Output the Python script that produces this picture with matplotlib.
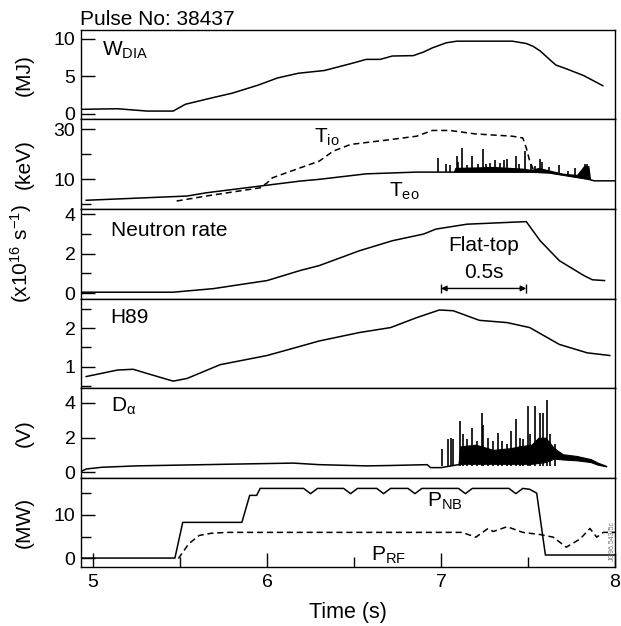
import numpy as np
import matplotlib
matplotlib.use("Agg")
import matplotlib.pyplot as plt

# ------------------------------
# DATA
# ------------------------------

# stored energy W_DIA (MJ)
w_t = [4.93, 5.14, 5.31, 5.46, 5.53, 5.69, 5.80, 5.95, 6.06, 6.18, 6.33, 6.48, 6.57,
       6.65, 6.72, 6.84, 6.90, 6.95, 7.03, 7.09, 7.41, 7.49, 7.53, 7.57, 7.63, 7.66,
       7.72, 7.82, 7.93]
w_dia = [0.56, 0.64, 0.33, 0.33, 1.24, 2.14, 2.73, 3.82, 4.77, 5.4, 5.77, 6.68, 7.26,
         7.26, 7.71, 7.76, 8.25, 8.8, 9.48, 9.7, 9.7, 9.39, 9.0, 8.39, 7.12, 6.5,
         6.0, 5.09, 3.73]

# central electron / ion temperature (keV)
te_t = [4.96, 5.54, 5.65, 5.96, 6.19, 6.30, 6.57, 6.86, 7.51, 7.62, 7.85, 7.88, 8.0]
te = [1.6, 3.3, 4.6, 7.3, 9.3, 10.0, 12.2, 12.9, 12.9, 12.6, 10.0, 9.4, 9.4]
te_spike_t = [6.98, 7.03, 7.05, 7.09, 7.10, 7.12, 7.15, 7.18, 7.21, 7.24, 7.26, 7.28,
              7.31, 7.34, 7.36, 7.38, 7.43, 7.45, 7.48, 7.52, 7.54, 7.57, 7.58, 7.62,
              7.68, 7.73, 7.77, 7.83, 7.84]
te_spike = [18.6, 16.0, 15.8, 19.3, 17.0, 22.6, 15.8, 19.3, 16.0, 22.0, 16.0, 16.5,
            17.7, 16.5, 17.7, 18.0, 19.3, 16.0, 21.5, 16.0, 15.5, 18.0, 17.0, 15.0,
            15.8, 13.5, 14.5, 16.2, 16.0]
te_env_t = [7.07, 7.08, 7.20, 7.30, 7.40, 7.47, 7.52, 7.56, 7.62, 7.70, 7.78, 7.82, 7.85, 7.86]
te_env = [12.9, 14.8, 15.0, 15.2, 14.8, 14.5, 14.0, 14.8, 13.8, 12.5, 12.0, 15.5, 15.5, 10.0]
ti_t = [5.48, 5.65, 5.96, 6.00, 6.03, 6.19, 6.30, 6.38, 6.48, 6.67, 6.86, 6.95, 7.05,
        7.20, 7.41, 7.47, 7.49, 7.51, 7.53]
ti = [1.3, 3.3, 6.6, 8.6, 10.6, 14.6, 17.3, 21.3, 24.0, 25.6, 27.3, 29.6, 29.6,
      28.2, 27.3, 26.6, 22.6, 17.3, 14.0]

# neutron rate (1e16 /s)
n_t = [4.94, 5.46, 5.69, 6.0, 6.19, 6.30, 6.53, 6.72, 6.90, 6.97, 7.15, 7.49, 7.57,
       7.68, 7.82, 7.87, 7.94]
neutrons = [0.05, 0.05, 0.23, 0.64, 1.15, 1.4, 2.15, 2.66, 3.0, 3.25, 3.5, 3.63, 2.66,
            1.65, 0.9, 0.68, 0.64]

# H89 confinement factor
h_t = [4.96, 5.14, 5.23, 5.31, 5.46, 5.54, 5.73, 6.0, 6.19, 6.30, 6.53, 6.71, 6.86,
       6.99, 7.07, 7.22, 7.38, 7.51, 7.68, 7.84, 7.97]
h89 = [0.74, 0.91, 0.93, 0.82, 0.62, 0.69, 1.05, 1.29, 1.53, 1.67, 1.89, 2.02, 2.28,
       2.48, 2.46, 2.21, 2.15, 2.02, 1.58, 1.36, 1.29]

# D-alpha (V)
d_t = [4.93, 4.96, 5.05, 5.25, 5.80, 6.15, 6.30, 6.57, 6.70, 6.92, 6.94, 7.0, 7.10]
d_alpha = [0.06, 0.2, 0.3, 0.38, 0.48, 0.54, 0.45, 0.38, 0.4, 0.45, 0.28, 0.28, 0.45]
d_spike_t = [7.007, 7.041, 7.055, 7.07, 7.109, 7.128, 7.147, 7.176, 7.205, 7.233, 7.243,
             7.272, 7.301, 7.33, 7.349, 7.378, 7.402, 7.431, 7.454, 7.473, 7.498, 7.511,
             7.54, 7.569, 7.588, 7.607, 7.626, 7.655]
d_spike = [1.34, 1.91, 2.0, 1.91, 2.96, 2.19, 1.91, 2.57, 1.81, 3.43, 2.76, 2.0, 1.81,
           2.29, 1.81, 1.62, 2.38, 3.05, 2.0, 1.91, 3.81, 2.19, 3.81, 3.43, 3.43, 4.19,
           2.19, 1.62]
d_env_t = [7.10, 7.11, 7.20, 7.30, 7.40, 7.45, 7.52, 7.56, 7.60, 7.65, 7.70, 7.78, 7.86,
           7.90, 7.95]
d_env_lo = [0.45, 0.5, 0.5, 0.5, 0.5, 0.5, 0.5, 0.55, 0.6, 0.8, 0.75, 0.7, 0.6, 0.45, 0.35]
d_env_hi = [0.45, 1.5, 1.6, 1.3, 1.4, 1.5, 1.6, 2.0, 2.0, 1.4, 1.05, 0.95, 0.77, 0.57, 0.38]

# heating power (MW)
pnb_t = [4.93, 5.47, 5.515, 5.855, 5.90, 5.94, 5.96, 6.21, 6.25, 6.29, 6.44, 6.48, 6.52,
         6.63, 6.67, 6.71, 6.81, 6.85, 6.89, 7.10, 7.14, 7.18, 7.39, 7.43, 7.47, 7.51,
         7.55, 7.60, 8.0]
p_nb = [0.1, 0.1, 8.3, 8.3, 14.5, 14.5, 16.1, 16.1, 14.9, 16.1, 16.1, 14.9, 16.1,
        16.1, 14.9, 16.1, 16.1, 14.9, 16.1, 16.1, 14.9, 16.1, 16.1, 14.9, 16.1, 15.9,
        15.0, 0.8, 0.8]
prf_t = [5.49, 5.55, 5.61, 5.68, 5.77, 7.12, 7.20, 7.27, 7.30, 7.38, 7.47, 7.57, 7.645,
         7.72, 7.80, 7.856, 7.895, 7.933, 8.0]
p_rf = [0.0, 3.4, 5.3, 5.8, 6.0, 6.0, 4.9, 6.9, 6.2, 7.3, 6.0, 5.5, 4.9, 2.6, 4.5,
        6.9, 4.9, 6.0, 6.0]

flat_top = (7.0, 7.49)

# ------------------------------
# STYLE
# ------------------------------

plt.rcParams["font.family"] = ["Liberation Sans", "DejaVu Sans"]
plt.rcParams["mathtext.fontset"] = "custom"
plt.rcParams["mathtext.rm"] = "Liberation Sans"
plt.rcParams["mathtext.it"] = "Liberation Sans:italic"
plt.rcParams["mathtext.default"] = "regular"

LW = 1.1
TXT = 15
YLAB = 15
DASH = (0, (4, 2.5))

fig = plt.figure(figsize=(6.21, 6.26), dpi=100)
gs = fig.add_gridspec(6, 1, left=0.1304, right=0.9903, top=0.9521, bottom=0.0942, hspace=0)
axes = [fig.add_subplot(gs[i]) for i in range(6)]
ax_w, ax_t, ax_n, ax_h, ax_d, ax_p = axes

for ax in axes:
    ax.set_xlim(4.93, 8.0)
    for sp in ax.spines.values():
        sp.set_linewidth(1.0)
    ax.tick_params(axis="y", which="major", direction="in", length=10, width=1,
                   labelsize=14, pad=4)
    ax.tick_params(axis="y", which="minor", direction="in", length=7, width=1)
    ax.tick_params(axis="x", which="both", bottom=False, labelbottom=False)
    ax.yaxis.set_label_coords(-0.088, 0.5)

# W_DIA
ax_w.plot(w_t, w_dia, color="k", lw=LW)
ax_w.set_ylim(-0.8, 11.2)
ax_w.set_yticks([0, 5, 10])
ax_w.set_ylabel("(MJ)", fontsize=YLAB)
ax_w.text(5.05, 8.5, r"W$_{DIA}$", fontsize=TXT, va="center")

# temperatures
ax_t.plot(te_t, te, color="k", lw=LW)
te_env_base = np.interp(te_env_t, te_t, te)
ax_t.fill_between(te_env_t, te_env_base, te_env, color="k", lw=0)
ax_t.vlines(te_spike_t, np.interp(te_spike_t, te_t, te), te_spike, color="k", lw=1.2)
ax_t.plot(ti_t, ti, color="k", lw=LW, linestyle=DASH)
ax_t.set_ylim(-1.9, 34)
ax_t.set_yticks([10, 30])
ax_t.set_yticks([0, 20], minor=True)
ax_t.set_ylabel("(keV)", fontsize=YLAB)
ax_t.text(6.27, 27.0, r"T$_{io}$", fontsize=TXT, va="center")
ax_t.text(6.70, 5.3, r"T$_{eo}$", fontsize=TXT, va="center")

# neutrons
ax_n.plot(n_t, neutrons, color="k", lw=LW)
ax_n.set_ylim(-0.27, 4.27)
ax_n.set_yticks([0, 2, 4])
ax_n.set_yticks([1, 3], minor=True)
ax_n.set_ylabel(r"(x10$^{16}$ s$^{-1}$)", fontsize=YLAB)
ax_n.text(5.10, 3.2, "Neutron rate", fontsize=TXT, va="center")
mid = 0.5 * (flat_top[0] + flat_top[1])
ax_n.text(mid, 2.41, "Flat-top", fontsize=TXT, ha="center", va="center")
ax_n.text(mid, 1.05, "0.5s", fontsize=TXT, ha="center", va="center")
ax_n.annotate("", xy=(flat_top[0], 0.24), xytext=(flat_top[1], 0.24),
              arrowprops=dict(arrowstyle="<|-|>", color="k", lw=1, mutation_scale=8,
                              shrinkA=0, shrinkB=0))
ax_n.vlines(flat_top, 0.0, 0.48, color="k", lw=1)

# H89
ax_h.plot(h_t, h89, color="k", lw=LW)
ax_h.set_ylim(0.44, 2.78)
ax_h.set_yticks([1, 2])
ax_h.set_yticks([0.5, 1.5, 2.5], minor=True)
ax_h.text(5.10, 2.28, "H89", fontsize=TXT, va="center")

# D-alpha
ax_d.plot(d_t, d_alpha, color="k", lw=LW)
ax_d.fill_between(d_env_t, d_env_lo, d_env_hi, color="k", lw=0.8)
ax_d.vlines(d_spike_t, 0.4, d_spike, color="k", lw=1.2)
ax_d.set_ylim(-0.29, 4.86)
ax_d.set_yticks([0, 2, 4])
ax_d.set_ylabel("(V)", fontsize=YLAB)
ax_d.text(5.10, 3.8, r"D$_{\alpha}$", fontsize=TXT, va="center")

# heating power
ax_p.plot(pnb_t, p_nb, color="k", lw=LW)
ax_p.plot(prf_t, p_rf, color="k", lw=LW, linestyle=DASH)
ax_p.set_ylim(-1.96, 18.6)
ax_p.set_yticks([0, 10])
ax_p.set_yticks([5, 15], minor=True)
ax_p.set_ylabel("(MW)", fontsize=YLAB)
ax_p.text(6.92, 13.2, r"P$_{NB}$", fontsize=TXT, va="center")
ax_p.text(6.60, 0.8, r"P$_{RF}$", fontsize=TXT, va="center")
ax_p.tick_params(axis="x", which="major", bottom=True, labelbottom=True, direction="in",
                 length=10, width=1, labelsize=14, pad=5)
ax_p.tick_params(axis="x", which="minor", bottom=True, direction="in", length=7, width=1)
ax_p.set_xticks([5, 6, 7, 8])
ax_p.set_xticks([5.5, 6.5, 7.5], minor=True)
ax_p.set_xlabel("Time (s)", fontsize=15.5, labelpad=8)

fig.text(80 / 621, 1 - 25 / 626, "Pulse No: 38437", fontsize=15, va="baseline")
fig.text(0.986, 0.135, "JG96.543/5c", fontsize=5, rotation=90, color="0.45",
         ha="center", va="center")

fig.savefig("out.png", dpi=100)
